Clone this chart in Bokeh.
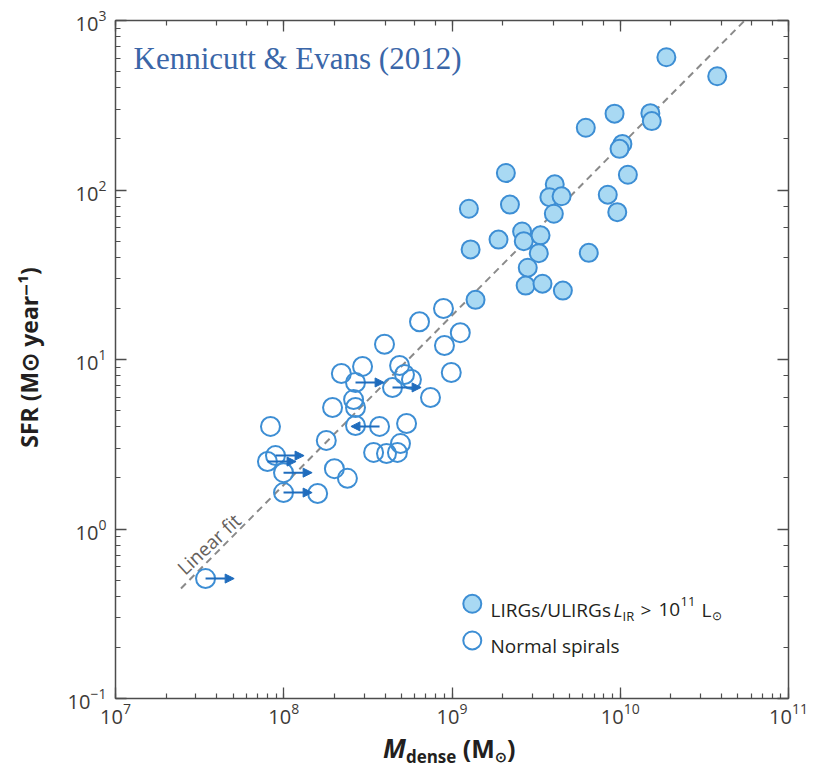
from bokeh.plotting import figure
from bokeh.layouts import column
from bokeh.models import (LogAxis, LogTicker, Label, Arrow, NormalHead, Div,
                          ColumnDataSource, CustomJSTickFormatter, Range1d)
from bokeh.embed import file_html
from bokeh.resources import INLINE

# ---------------- data ----------------
# LIRGs / ULIRGs (L_IR > 1e11 Lsun): dense gas mass (Msun), SFR (Msun/yr)
lirg_mdense = [1.88e10, 3.77e10, 9.25e9, 1.51e10, 1.54e10, 6.24e9, 1.03e10, 9.9e9,
               1.11e10, 2.09e9, 1.26e9, 2.21e9, 4.08e9, 3.79e9, 4.48e9, 4.03e9,
               8.43e9, 9.6e9, 1.89e9, 2.61e9, 2.67e9, 3.36e9, 1.29e9, 3.28e9,
               6.5e9, 2.82e9, 2.74e9, 3.45e9, 4.56e9, 1.38e9]
lirg_sfr = [607, 469, 282, 284, 255, 233, 187, 175,
            123, 126, 77.5, 82, 108, 90.7, 91.8, 72.4,
            93.8, 74, 51, 56.9, 49.9, 54, 44.6, 42.4,
            42.6, 34.8, 27.3, 28.0, 25.5, 22.5]

# Normal spirals
spiral_mdense = [8.9e8, 6.41e8, 1.12e9, 9.02e8, 3.97e8, 9.9e8, 2.94e8, 2.2e8,
                 4.88e8, 5.22e8, 2.67e8, 4.43e8, 5.74e8, 7.45e8, 1.95e8, 2.6e8,
                 2.67e8, 2.67e8, 3.71e8, 5.37e8, 8.34e7, 1.79e8, 3.42e8, 4.08e8,
                 4.74e8, 4.94e8, 8.0e7, 8.93e7, 9.97e7, 2.0e8, 2.39e8, 9.97e7,
                 1.59e8, 3.43e7]
spiral_sfr = [20.0, 16.7, 14.4, 12.1, 12.3, 8.38, 9.1, 8.27,
              9.22, 8.16, 7.32, 6.84, 7.62, 5.97, 5.21, 5.8,
              5.21, 4.08, 4.03, 4.19, 4.03, 3.33, 2.83, 2.79,
              2.83, 3.19, 2.5, 2.71, 2.15, 2.27, 1.99, 1.64,
              1.62, 0.51]
# +1: lower limit on M_dense (arrow to the right), -1: arrow to the left, 0: none
spiral_limit = [0, 0, 0, 0, 0, 0, 0, 0,
                0, 0, 1, 1, 0, 0, 0, 0,
                0, 0, -1, 0, 0, 0, 0, 0,
                0, 0, 1, 1, 1, 0, 0, 1,
                0, 1]

# linear fit SFR = FIT_NORM * M_dense
FIT_NORM = 10 ** -7.74
fit_mdense = [2.45e7, 6.0e10]

x_ticks_range = (1e7, 1e11)
y_ticks_range = (0.1, 1e3)

# ---------------- styles ----------------
FILL_BLUE = "#a9d9f3"
EDGE_BLUE = "#3d8ed4"
ARROW_BLUE = "#1f6cbd"
AXIS_COL = "#4d4d4d"
TEXT_COL = "#231f20"
TICK_TEXT = "#3d3a37"
SANS = "Open Sans"
ARROW_DEX = 0.17

W = 808
MAIN_H = 738
XLAB_H = 31

p = figure(width=W, height=MAIN_H, x_axis_type="log", y_axis_type="log",
           x_range=Range1d(*x_ticks_range), y_range=Range1d(*y_ticks_range),
           output_backend="svg", toolbar_location=None,
           min_border_left=115, min_border_right=20,
           min_border_top=20, min_border_bottom=40)
p.grid.visible = False
p.outline_line_color = None
p.background_fill_color = "white"
p.border_fill_color = "white"


def style_axis(ax, labels=True):
    ax.major_tick_in = 11
    ax.major_tick_out = 0
    ax.minor_tick_in = 5
    ax.minor_tick_out = 0
    ax.axis_line_color = AXIS_COL
    ax.axis_line_width = 1.5
    ax.major_tick_line_color = AXIS_COL
    ax.major_tick_line_width = 1.3
    ax.minor_tick_line_color = AXIS_COL
    ax.minor_tick_line_width = 1.2
    if labels:
        ax.major_label_text_font = SANS
        ax.major_label_text_font_size = "20px"
        ax.major_label_text_color = TICK_TEXT
    else:
        ax.major_label_text_font_size = "0px"
        ax.major_label_standoff = 0


style_axis(p.xaxis[0])
style_axis(p.yaxis[0])
p.xaxis[0].major_label_standoff = 4
p.yaxis[0].major_label_standoff = 9

yax = p.yaxis[0]
yax.axis_label = "SFR (M⊙ year⁻¹)"
yax.axis_label_text_font = SANS
yax.axis_label_text_font_style = "bold"
yax.axis_label_text_font_size = "23px"
yax.axis_label_text_color = TEXT_COL
yax.axis_label_standoff = 20

for side in ("above", "right"):
    ax = LogAxis(ticker=LogTicker(), formatter=CustomJSTickFormatter(code="return ''"))
    style_axis(ax, labels=False)
    p.add_layout(ax, side)

# fit line
fit_sfr = [FIT_NORM * m for m in fit_mdense]
p.line(fit_mdense, fit_sfr, line_color="#8a8a8a", line_width=2, line_dash="7 5")

# normal spirals (open)
p.scatter(spiral_mdense, spiral_sfr, marker="circle", size=19,
          fill_color=None, line_color=EDGE_BLUE, line_width=2)

# LIRGs (filled)
p.scatter(lirg_mdense, lirg_sfr, marker="circle", size=18,
          fill_color=FILL_BLUE, line_color=EDGE_BLUE, line_width=2)

# limit arrows
ax0, ax1, ay = [], [], []
for m, s, l in zip(spiral_mdense, spiral_sfr, spiral_limit):
    if l != 0:
        ax0.append(m)
        ax1.append(m * 10 ** (ARROW_DEX * l))
        ay.append(s)
asrc = ColumnDataSource(dict(x0=ax0, x1=ax1, y=ay))
p.add_layout(Arrow(end=NormalHead(size=9, fill_color=ARROW_BLUE, line_color=ARROW_BLUE,
                                  line_width=1),
                   x_start="x0", y_start="y", x_end="x1", y_end="y",
                   line_color=ARROW_BLUE, line_width=2, source=asrc))

# "Linear fit" label along the fit line
lf_x = 3.6e7
p.add_layout(Label(x=lf_x, y=FIT_NORM * lf_x, y_offset=16, text="Linear fit",
                   text_font=SANS, text_font_size="19px", text_color="#66615c",
                   angle=43, angle_units="deg", text_align="center",
                   text_baseline="alphabetic"))


def txt(fig, x, y, s, size, color=TEXT_COL, font=SANS, style="normal"):
    fig.add_layout(Label(x=x, y=y, x_units="screen", y_units="screen", text=s,
                         text_font=font, text_font_size=f"{size}px",
                         text_font_style=style, text_color=color,
                         text_align="left", text_baseline="alphabetic"))


# title
txt(p, 18, 640, "Kennicutt & Evans (2012)", 31, color="#3a66a8", font="Liberation Serif")

# legend keys
LEG_X = 1.32e9
LEG_Y = [0.362, 0.220]
p.scatter([LEG_X], [LEG_Y[0]], marker="circle", size=18,
          fill_color=FILL_BLUE, line_color=EDGE_BLUE, line_width=2)
p.scatter([LEG_X], [LEG_Y[1]], marker="circle", size=18,
          fill_color=None, line_color=EDGE_BLUE, line_width=2)

# legend text (line 1)
txt(p, 375, 89, "LIRGs/ULIRGs", 19)
txt(p, 498, 89, "L", 19, style="italic")
txt(p, 507, 83, "IR", 13)
txt(p, 525, 89, ">", 19)
txt(p, 543, 89, "10", 19)
txt(p, 565, 97, "11", 13)
txt(p, 586, 89, "L", 19)
txt(p, 596, 83, "⊙", 12)
# legend text (line 2)
txt(p, 375, 53, "Normal spirals", 19)

# x axis label (HTML strip below the plot, with a real subscript)
xlabel_html = (
    '<div style="margin-left:383px; line-height:20px; white-space:nowrap; '
    "font-family:'Open Sans'; font-weight:bold; color:#231f20; font-size:25px;\">"
    '<i style="font-size:26px">M</i>'
    '<span style="position:relative; top:5px; font-size:17px">dense</span>'
    ' (M<span style="position:relative; top:4px; font-size:14px">⊙</span>)'
    '</div>'
)
xl = Div(text=xlabel_html, width=W, height=XLAB_H,
         styles={"margin": "0", "padding": "0", "overflow": "visible"})

layout = column(p, xl, spacing=0)
open("out.html", "w").write(file_html(layout, INLINE))
